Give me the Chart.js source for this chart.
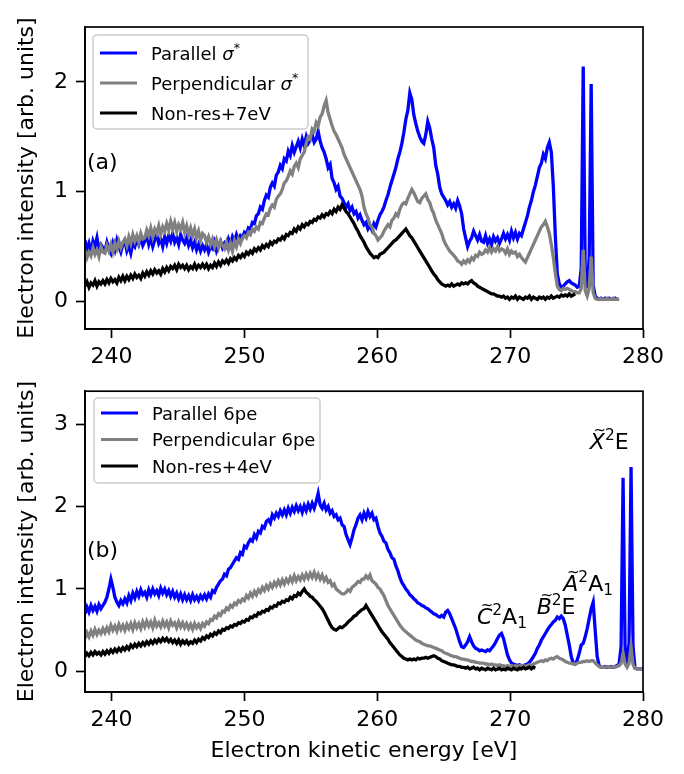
<!DOCTYPE html>
<html>
<head>
<meta charset="utf-8">
<title>Electron kinetic energy spectra</title>
<script src="https://cdn.jsdelivr.net/npm/chart.js@4.4.1/dist/chart.umd.min.js"></script>
<style>
  html, body { margin: 0; padding: 0; background: #fff; }
  #fig { position: relative; width: 684px; height: 774px; }
  #fig canvas { position: absolute; left: 0; }
  #chartA { top: 0; }
  #chartB { top: 370px; }
</style>
</head>
<body>
<div id="fig">
  <canvas id="chartA" width="684" height="370"></canvas>
  <canvas id="chartB" width="684" height="404"></canvas>
</div>
<script>
// Axis ticks shared by both panels
const xTicks = [240, 250, 260, 270, 280];
const yTicksA = [0, 1, 2];
const yTicksB = [0, 1, 2, 3];

// Spectra are sampled every 0.15 eV starting at 238 eV (10 samples = 1.5 eV per row)
const eStart = 238.0;
const eStep = 0.15;

// Panel (a): sigma* resonance
const parallelSigma = [
  0.56,0.47,0.53,0.45,0.55,0.50,0.58,0.47,0.52,0.49,
  0.46,0.54,0.48,0.44,0.53,0.47,0.56,0.50,0.45,0.52,
  0.55,0.46,0.51,0.44,0.53,0.50,0.57,0.52,0.58,0.51,
  0.55,0.60,0.52,0.58,0.50,0.56,0.61,0.53,0.57,0.50,
  0.59,0.53,0.60,0.55,0.62,0.54,0.58,0.52,0.61,0.56,
  0.53,0.58,0.51,0.56,0.49,0.54,0.47,0.52,0.46,0.51,
  0.47,0.52,0.45,0.50,0.48,0.54,0.46,0.51,0.55,0.49,
  0.53,0.50,0.57,0.52,0.59,0.55,0.61,0.56,0.60,0.58,
  0.63,0.61,0.67,0.66,0.72,0.71,0.78,0.80,0.86,0.84,
  0.92,0.97,0.95,1.04,1.08,1.05,1.15,1.18,1.24,1.21,
  1.30,1.28,1.37,1.33,1.42,1.36,1.41,1.46,1.40,1.48,
  1.42,1.50,1.44,1.47,1.52,1.45,1.48,1.55,1.46,1.40,
  1.36,1.30,1.22,1.25,1.12,1.08,1.02,1.05,0.96,0.94,
  0.90,0.86,0.89,0.83,0.86,0.80,0.82,0.76,0.79,0.74,
  0.70,0.72,0.66,0.69,0.65,0.71,0.68,0.74,0.79,0.82,
  0.86,0.92,0.97,1.04,1.10,1.16,1.22,1.30,1.36,1.44,
  1.54,1.66,1.74,1.90,1.84,1.70,1.62,1.55,1.50,1.46,
  1.44,1.52,1.64,1.58,1.48,1.40,1.24,1.16,1.04,0.98,
  0.95,0.92,0.88,0.91,0.86,0.89,0.85,0.92,0.87,0.80,
  0.66,0.58,0.50,0.55,0.58,0.64,0.60,0.56,0.61,0.55,
  0.54,0.60,0.53,0.57,0.52,0.59,0.55,0.58,0.53,0.57,
  0.62,0.57,0.61,0.56,0.64,0.58,0.63,0.57,0.62,0.60,
  0.66,0.72,0.78,0.86,0.92,1.00,1.06,1.14,1.22,1.26,
  1.34,1.30,1.40,1.45,1.36,1.05,0.60,0.25,0.16,0.13,
  0.14,0.16,0.18,0.19,0.17,0.16,0.15,0.13,0.14,0.30,
  2.14,0.30,0.12,0.40,1.98,0.15,0.05,0.03,0.02,0.03,
  0.02,0.03,0.02,0.03,0.02,0.02,0.03,0.02,0.02
];
const perpendicularSigma = [
  0.47,0.40,0.45,0.42,0.49,0.43,0.47,0.41,0.50,0.45,
  0.44,0.51,0.46,0.52,0.45,0.53,0.48,0.55,0.49,0.54,
  0.57,0.51,0.59,0.53,0.61,0.55,0.60,0.54,0.62,0.57,
  0.58,0.65,0.60,0.67,0.59,0.66,0.62,0.69,0.61,0.68,
  0.64,0.71,0.65,0.73,0.66,0.72,0.64,0.70,0.66,0.72,
  0.63,0.69,0.61,0.67,0.60,0.66,0.58,0.64,0.56,0.62,
  0.60,0.54,0.59,0.52,0.57,0.50,0.56,0.49,0.55,0.51,
  0.48,0.54,0.47,0.53,0.46,0.55,0.50,0.57,0.53,0.58,
  0.60,0.58,0.63,0.61,0.66,0.64,0.68,0.66,0.72,0.71,
  0.76,0.80,0.79,0.85,0.88,0.86,0.93,0.96,0.98,1.02,
  1.08,1.10,1.14,1.19,1.16,1.23,1.26,1.22,1.30,1.33,
  1.36,1.44,1.50,1.48,1.57,1.55,1.63,1.60,1.68,1.71,
  1.78,1.83,1.72,1.66,1.60,1.55,1.52,1.48,1.44,1.40,
  1.34,1.30,1.26,1.22,1.18,1.14,1.10,1.06,1.02,0.96,
  0.86,0.80,0.76,0.70,0.68,0.62,0.60,0.56,0.58,0.60,
  0.64,0.67,0.70,0.68,0.74,0.76,0.80,0.78,0.84,0.88,
  0.90,0.89,0.94,0.98,1.02,0.99,0.95,0.91,0.90,0.94,
  0.96,0.98,0.93,0.90,0.84,0.80,0.74,0.70,0.66,0.62,
  0.56,0.52,0.49,0.46,0.44,0.42,0.40,0.37,0.36,0.34,
  0.37,0.35,0.38,0.36,0.40,0.38,0.42,0.41,0.45,0.43,
  0.44,0.47,0.45,0.49,0.45,0.48,0.46,0.50,0.46,0.48,
  0.47,0.44,0.48,0.43,0.46,0.44,0.45,0.41,0.43,0.40,
  0.38,0.36,0.40,0.44,0.48,0.52,0.56,0.60,0.64,0.68,
  0.70,0.73,0.68,0.62,0.52,0.40,0.26,0.14,0.11,0.10,
  0.12,0.11,0.12,0.11,0.10,0.09,0.09,0.08,0.08,0.12,
  0.47,0.10,0.05,0.12,0.41,0.08,0.03,0.02,0.02,0.03,
  0.02,0.02,0.03,0.02,0.02,0.03,0.02,0.02,0.02
];
const nonRes7 = [
  0.14,0.18,0.13,0.17,0.15,0.19,0.14,0.18,0.16,0.19,
  0.16,0.20,0.17,0.21,0.18,0.20,0.17,0.22,0.19,0.23,
  0.19,0.23,0.20,0.24,0.21,0.25,0.22,0.24,0.21,0.26,
  0.23,0.27,0.24,0.28,0.25,0.29,0.26,0.28,0.25,0.30,
  0.27,0.31,0.28,0.32,0.30,0.33,0.29,0.34,0.31,0.33,
  0.30,0.33,0.29,0.32,0.30,0.34,0.30,0.33,0.31,0.34,
  0.31,0.34,0.30,0.33,0.31,0.35,0.32,0.36,0.33,0.37,
  0.35,0.38,0.35,0.39,0.37,0.40,0.38,0.42,0.40,0.43,
  0.41,0.45,0.43,0.46,0.44,0.48,0.46,0.49,0.47,0.51,
  0.49,0.52,0.50,0.54,0.52,0.55,0.54,0.57,0.56,0.59,
  0.57,0.61,0.60,0.63,0.62,0.66,0.64,0.68,0.66,0.70,
  0.68,0.71,0.70,0.73,0.72,0.75,0.74,0.77,0.76,0.79,
  0.77,0.80,0.79,0.82,0.80,0.84,0.82,0.86,0.84,0.88,
  0.85,0.82,0.80,0.77,0.74,0.71,0.67,0.64,0.60,0.57,
  0.54,0.50,0.47,0.44,0.42,0.40,0.41,0.40,0.43,0.44,
  0.45,0.47,0.49,0.51,0.53,0.55,0.56,0.58,0.60,0.62,
  0.64,0.66,0.63,0.60,0.58,0.55,0.52,0.49,0.46,0.43,
  0.40,0.37,0.34,0.31,0.28,0.25,0.23,0.20,0.18,0.16,
  0.15,0.14,0.15,0.14,0.16,0.14,0.15,0.16,0.15,0.17,
  0.16,0.17,0.16,0.18,0.19,0.17,0.16,0.14,0.13,0.12,
  0.11,0.10,0.09,0.08,0.07,0.07,0.06,0.05,0.05,0.04,
  0.05,0.03,0.04,0.02,0.04,0.03,0.05,0.02,0.04,0.03,
  0.02,0.04,0.03,0.05,0.02,0.04,0.03,0.02,0.04,0.03,
  0.04,0.02,0.04,0.03,0.05,0.03,0.04,0.05,0.04,0.06,
  0.05,0.06,0.05,0.07,0.05,0.06,0.07
];

// Panel (b): 6pe resonance
const parallel6pe = [
  0.70,0.78,0.72,0.80,0.74,0.79,0.73,0.81,0.76,0.80,
  0.84,0.90,1.00,1.12,1.02,0.90,0.84,0.80,0.86,0.82,
  0.88,0.83,0.92,0.86,0.95,0.89,0.97,0.91,0.99,0.93,
  0.96,0.90,0.99,0.93,1.00,0.94,0.98,0.92,1.01,0.95,
  1.00,0.93,0.98,0.91,0.97,0.90,0.95,0.88,0.94,0.87,
  0.93,0.87,0.92,0.86,0.93,0.87,0.91,0.86,0.92,0.88,
  0.93,0.88,0.94,0.90,0.98,0.96,1.02,1.06,1.10,1.12,
  1.18,1.16,1.24,1.26,1.30,1.34,1.38,1.36,1.44,1.42,
  1.52,1.50,1.56,1.60,1.58,1.66,1.62,1.70,1.68,1.76,
  1.74,1.82,1.84,1.80,1.90,1.86,1.92,1.88,1.95,1.90,
  1.96,1.90,1.98,1.92,1.99,1.94,2.01,1.95,2.00,1.93,
  2.01,1.95,2.03,1.97,2.04,1.98,2.06,2.16,2.02,1.98,
  2.04,1.96,2.00,1.92,1.95,1.88,1.90,1.84,1.86,1.78,
  1.76,1.66,1.60,1.54,1.62,1.72,1.78,1.86,1.90,1.84,
  1.92,1.86,1.94,1.88,1.92,1.84,1.86,1.76,1.68,1.64,
  1.58,1.56,1.48,1.44,1.38,1.36,1.28,1.22,1.14,1.08,
  1.04,1.00,0.97,0.93,0.91,0.88,0.86,0.83,0.82,0.80,
  0.79,0.77,0.76,0.74,0.72,0.70,0.69,0.67,0.66,0.68,
  0.66,0.72,0.74,0.70,0.64,0.58,0.52,0.44,0.36,0.30,
  0.29,0.32,0.36,0.42,0.36,0.31,0.28,0.27,0.25,0.26,
  0.25,0.24,0.26,0.25,0.28,0.31,0.35,0.40,0.44,0.46,
  0.40,0.30,0.20,0.14,0.10,0.09,0.08,0.07,0.08,0.07,
  0.07,0.08,0.09,0.11,0.14,0.18,0.22,0.28,0.32,0.38,
  0.42,0.46,0.50,0.54,0.57,0.60,0.62,0.66,0.64,0.67,
  0.64,0.56,0.44,0.32,0.18,0.10,0.09,0.14,0.22,0.32,
  0.34,0.42,0.52,0.64,0.76,0.84,0.50,0.18,0.07,0.05,
  0.05,0.06,0.05,0.05,0.06,0.05,0.06,0.07,0.09,0.30,
  2.35,0.30,0.08,0.35,2.48,0.30,0.04,0.03,0.03,0.03,
  0.03
];
const perpendicular6pe = [
  0.40,0.47,0.42,0.49,0.44,0.51,0.45,0.50,0.46,0.52,
  0.47,0.53,0.48,0.56,0.50,0.55,0.49,0.57,0.51,0.56,
  0.50,0.57,0.52,0.58,0.51,0.59,0.53,0.58,0.52,0.60,
  0.54,0.61,0.55,0.60,0.53,0.62,0.55,0.59,0.54,0.61,
  0.55,0.60,0.53,0.61,0.56,0.59,0.53,0.60,0.54,0.59,
  0.53,0.58,0.52,0.57,0.51,0.58,0.53,0.57,0.52,0.58,
  0.55,0.60,0.58,0.63,0.62,0.67,0.65,0.70,0.68,0.73,
  0.72,0.77,0.75,0.80,0.78,0.83,0.81,0.86,0.84,0.88,
  0.86,0.92,0.89,0.95,0.91,0.97,0.93,0.99,0.96,1.02,
  0.98,1.04,1.00,1.06,1.02,1.08,1.04,1.10,1.05,1.11,
  1.06,1.12,1.08,1.14,1.09,1.16,1.10,1.15,1.11,1.17,
  1.12,1.18,1.13,1.19,1.14,1.20,1.13,1.18,1.12,1.17,
  1.10,1.14,1.08,1.10,1.04,1.06,1.00,0.98,0.96,0.94,
  0.94,0.96,0.99,0.97,1.02,1.04,1.06,1.09,1.08,1.12,
  1.12,1.16,1.13,1.17,1.10,1.08,1.06,1.02,1.00,0.96,
  0.92,0.86,0.80,0.76,0.72,0.68,0.64,0.60,0.56,0.53,
  0.50,0.48,0.46,0.44,0.42,0.40,0.38,0.37,0.36,0.34,
  0.33,0.32,0.31,0.31,0.30,0.29,0.28,0.27,0.26,0.25,
  0.23,0.22,0.21,0.20,0.19,0.18,0.18,0.17,0.16,0.15,
  0.15,0.14,0.14,0.13,0.12,0.12,0.11,0.11,0.10,0.10,
  0.10,0.09,0.09,0.08,0.09,0.08,0.08,0.07,0.08,0.07,
  0.07,0.06,0.07,0.06,0.07,0.06,0.07,0.06,0.07,0.07,
  0.07,0.06,0.07,0.08,0.07,0.09,0.10,0.11,0.12,0.13,
  0.12,0.14,0.13,0.15,0.16,0.15,0.17,0.18,0.16,0.15,
  0.14,0.12,0.11,0.10,0.10,0.09,0.09,0.10,0.11,0.11,
  0.12,0.12,0.13,0.12,0.13,0.13,0.10,0.08,0.06,0.05,
  0.05,0.05,0.06,0.05,0.05,0.06,0.05,0.06,0.07,0.10,
  0.22,0.09,0.05,0.10,0.30,0.08,0.04,0.03,0.03,0.03,
  0.03
];
const nonRes4 = [
  0.18,0.22,0.19,0.23,0.20,0.24,0.21,0.23,0.20,0.24,
  0.21,0.25,0.22,0.26,0.23,0.27,0.24,0.28,0.25,0.29,
  0.26,0.30,0.27,0.32,0.29,0.33,0.30,0.34,0.31,0.35,
  0.32,0.36,0.33,0.37,0.34,0.38,0.35,0.39,0.36,0.40,
  0.37,0.40,0.36,0.39,0.35,0.38,0.34,0.38,0.33,0.37,
  0.34,0.37,0.33,0.36,0.34,0.38,0.35,0.39,0.37,0.41,
  0.39,0.43,0.41,0.45,0.43,0.47,0.45,0.49,0.47,0.51,
  0.50,0.53,0.52,0.55,0.54,0.57,0.56,0.59,0.58,0.61,
  0.60,0.63,0.62,0.66,0.65,0.68,0.67,0.71,0.70,0.73,
  0.72,0.75,0.74,0.78,0.77,0.80,0.79,0.83,0.82,0.85,
  0.84,0.87,0.86,0.90,0.88,0.92,0.91,0.95,0.93,0.97,
  1.00,0.96,0.94,0.91,0.90,0.87,0.85,0.82,0.79,0.76,
  0.72,0.67,0.62,0.57,0.53,0.51,0.50,0.52,0.54,0.53,
  0.55,0.57,0.60,0.62,0.64,0.67,0.68,0.71,0.73,0.75,
  0.76,0.80,0.76,0.72,0.68,0.64,0.60,0.56,0.52,0.48,
  0.45,0.42,0.39,0.35,0.32,0.29,0.26,0.23,0.20,0.18,
  0.16,0.15,0.14,0.15,0.14,0.15,0.14,0.16,0.15,0.16,
  0.16,0.17,0.16,0.17,0.18,0.19,0.18,0.16,0.15,0.13,
  0.12,0.11,0.10,0.09,0.08,0.08,0.07,0.06,0.06,0.05,
  0.05,0.04,0.05,0.03,0.04,0.05,0.03,0.04,0.02,0.04,
  0.03,0.02,0.04,0.03,0.02,0.04,0.02,0.03,0.04,0.02,
  0.03,0.02,0.04,0.03,0.02,0.04,0.03,0.02,0.04,0.03,
  0.05,0.03,0.04,0.05,0.03,0.05,0.04
];

// Final-state assignments in panel (b): [letter, term, subscript, energy eV, intensity at baseline]
const stateLabels = [
  ['X', 'E', '', 276.0, 2.70],
  ['A', 'A', '1', 274.0, 0.98],
  ['B', 'E', '', 272.0, 0.70],
  ['C', 'A', '1', 267.5, 0.58]
];

const FONT = '"DejaVu Sans", "Liberation Sans", sans-serif';
Chart.defaults.font.family = FONT;
Chart.defaults.color = '#000';

// pair each sample with its energy on the 0.15 eV grid
const toXY = vals => vals.map((y, k) => ({ x: +(eStart + eStep * k).toFixed(2), y }));

// draw text made of runs: {t, italic, sup, sub}
function drawRuns(ctx, x, y, runs, size) {
  let cx = x;
  runs.forEach(r => {
    const small = r.sup || r.sub;
    const fs = small ? size * 0.7 : size;
    ctx.font = (r.italic ? 'italic ' : '') + fs + 'px ' + FONT;
    let dy = 0;
    if (r.sup) dy = -size * 0.4;
    if (r.sub) dy = size * 0.18;
    ctx.fillText(r.t, cx, y + dy);
    cx += ctx.measureText(r.t).width;
  });
  return cx;
}

// axes frame on all four sides
const frame = {
  id: 'frame',
  afterDraw(chart) {
    const { ctx, chartArea: a } = chart;
    ctx.save();
    ctx.strokeStyle = '#000';
    ctx.lineWidth = 1.7;
    ctx.strokeRect(a.left, a.top, a.right - a.left, a.bottom - a.top);
    ctx.restore();
  }
};

// matplotlib-like legend box in the upper left
const boxLegend = {
  id: 'boxLegend',
  afterDraw(chart, args, o) {
    const ctx = chart.ctx;
    ctx.save();
    ctx.beginPath();
    ctx.roundRect(o.x, o.y, o.w, o.h, 4);
    ctx.fillStyle = 'rgba(255,255,255,0.8)';
    ctx.fill();
    ctx.strokeStyle = '#cccccc';
    ctx.lineWidth = 1.5;
    ctx.stroke();
    ctx.textAlign = 'left';
    ctx.textBaseline = 'alphabetic';
    chart.data.datasets.forEach((ds, i) => {
      const ry = o.y + o.first + i * o.gap;
      ctx.strokeStyle = ds.borderColor;
      ctx.lineWidth = 3;
      ctx.beginPath();
      ctx.moveTo(o.x + 7, ry);
      ctx.lineTo(o.x + 44, ry);
      ctx.stroke();
      ctx.fillStyle = '#000';
      drawRuns(ctx, o.x + 58, ry + 6.5, ds.labelRuns, 18);
    });
    ctx.restore();
  }
};

// panel tag and state assignments, placed in data coordinates
const panelText = {
  id: 'panelText',
  afterDraw(chart, args, o) {
    const { ctx, scales: { x, y } } = chart;
    ctx.save();
    ctx.fillStyle = '#000';
    ctx.textAlign = 'left';
    ctx.textBaseline = 'middle';
    ctx.font = '22px ' + FONT;
    ctx.fillText(o.tag[0], x.getPixelForValue(o.tag[1]), y.getPixelForValue(o.tag[2]));
    ctx.textBaseline = 'alphabetic';
    (o.states || []).forEach(([letter, term, sub, ex, ey]) => {
      const px = x.getPixelForValue(ex);
      const py = y.getPixelForValue(ey);
      ctx.font = 'italic 22px ' + FONT;
      const lw = ctx.measureText(letter).width;
      ctx.font = '15px ' + FONT;
      const tw = ctx.measureText('~').width;
      ctx.fillText('~', px + lw / 2 - tw / 2 + 2.5, py - 14);
      const runs = [{ t: letter, italic: true }, { t: '2', sup: true }, { t: term }];
      if (sub) runs.push({ t: sub, sub: true });
      drawRuns(ctx, px, py, runs, 22);
    });
    ctx.restore();
  }
};

const tickFont = { size: 22 };
const labelFont = { size: 22 };

function scalesFor(yMin, yMax, yTicks, xTitle, xHeight) {
  return {
    x: {
      type: 'linear', min: 238, max: 280,
      afterBuildTicks: s => { s.ticks = xTicks.map(v => ({ value: v })); },
      afterFit: s => { s.height = xHeight; },
      ticks: { font: tickFont, padding: 6, maxRotation: 0, autoSkip: false, callback: v => String(v) },
      grid: { drawOnChartArea: false, drawTicks: true, tickLength: 9, tickColor: '#000', tickWidth: 1.7 },
      border: { display: true, color: '#000', width: 1.7 },
      title: { display: !!xTitle, text: xTitle, font: labelFont, padding: { top: 0, bottom: 10 } }
    },
    y: {
      type: 'linear', min: yMin, max: yMax,
      afterBuildTicks: s => { s.ticks = yTicks.map(v => ({ value: v })); },
      afterFit: s => { s.width = 85; },
      ticks: { font: tickFont, padding: 8, callback: v => String(v) },
      grid: { drawOnChartArea: false, drawTicks: true, tickLength: 9, tickColor: '#000', tickWidth: 1.7 },
      border: { display: true, color: '#000', width: 1.7 },
      title: { display: true, text: 'Electron intensity [arb. units]', font: labelFont, padding: { top: 14, bottom: 0 } }
    }
  };
}

function series(label, runs, vals, color, order) {
  return {
    label, labelRuns: runs, data: toXY(vals),
    borderColor: color, backgroundColor: color,
    borderWidth: 3.3, pointRadius: 0, tension: 0, fill: false, order
  };
}

function makePanel(id, datasets, cfg) {
  return new Chart(document.getElementById(id), {
    type: 'line',
    data: { datasets },
    options: {
      responsive: false,
      animation: false,
      events: [],
      layout: { padding: { top: cfg.top, right: 41, left: 0, bottom: 0 } },
      scales: scalesFor(cfg.yMin, cfg.yMax, cfg.yTicks, cfg.xTitle, cfg.xHeight),
      plugins: {
        legend: { display: false },
        tooltip: { enabled: false },
        boxLegend: cfg.legend,
        panelText: { tag: cfg.tag, states: cfg.states }
      }
    },
    plugins: [frame, boxLegend, panelText]
  });
}

makePanel('chartA', [
  series('Parallel σ*', [{ t: 'Parallel ' }, { t: 'σ', italic: true }, { t: '*', sup: true }], parallelSigma, '#0000ff', 3),
  series('Perpendicular σ*', [{ t: 'Perpendicular ' }, { t: 'σ', italic: true }, { t: '*', sup: true }], perpendicularSigma, '#808080', 2),
  series('Non-res+7eV', [{ t: 'Non-res+7eV' }], nonRes7, '#000000', 1)
], {
  top: 27, yMin: -0.25, yMax: 2.5, yTicks: yTicksA, xTitle: '', xHeight: 41,
  legend: { x: 93, y: 35, w: 215, h: 94, first: 18, gap: 30 },
  tag: ['(a)', 238.15, 1.26]
});

makePanel('chartB', [
  series('Parallel 6pe', [{ t: 'Parallel 6pe' }], parallel6pe, '#0000ff', 3),
  series('Perpendicular 6pe', [{ t: 'Perpendicular 6pe' }], perpendicular6pe, '#808080', 2),
  series('Non-res+4eV', [{ t: 'Non-res+4eV' }], nonRes4, '#000000', 1)
], {
  top: 21, yMin: -0.25, yMax: 3.4, yTicks: yTicksB, xTitle: 'Electron kinetic energy [eV]', xHeight: 82,
  legend: { x: 94, y: 28, w: 226, h: 85, first: 15, gap: 26.5 },
  tag: ['(b)', 238.15, 1.46],
  states: stateLabels
});
</script>
</body>
</html>
